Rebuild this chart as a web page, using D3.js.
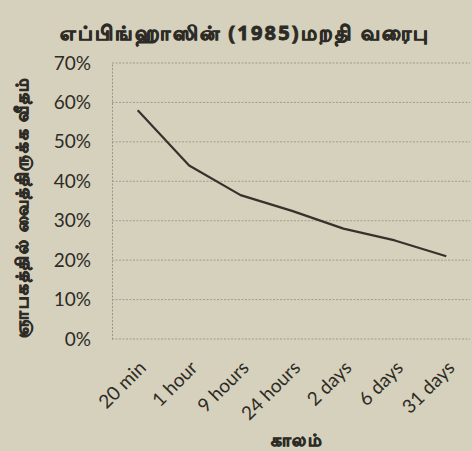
<!DOCTYPE html>
<html>
<head>
<meta charset="utf-8">
<script src="https://cdn.jsdelivr.net/npm/d3@7"></script>
<style>
  html, body { margin: 0; padding: 0; background: #d6d1bc; }
  svg { display: block; }
</style>
</head>
<body>
<svg id="chart" width="472" height="451"></svg>
<script>
const categories = ["20 min", "1 hour", "9 hours", "24 hours", "2 days", "6 days", "31 days"];
const retention = [0.58, 0.44, 0.365, 0.325, 0.28, 0.25, 0.21];
const yTicks = [0, 0.1, 0.2, 0.3, 0.4, 0.5, 0.6, 0.7];
const titleText = "எப்பிங்ஹாஸின் (1985)மறதி வரைபு";
const yTitle = "ஞாபகத்தில் வைத்திருக்க வீதம்";
const xTitle = "காலம்";

const W = 472, H = 451;
const m = { left: 112, right: 0, top: 63, bottom: 112 };
const svg = d3.select("#chart");
const ink = "#2d2b26";

svg.append("rect").attr("width", W).attr("height", H).attr("fill", "#d6d1bc");

const x = d3.scalePoint().domain(categories).range([m.left, W - m.right]).padding(0.5);
const y = d3.scaleLinear().domain([0, 0.7]).range([H - m.bottom, m.top]);

// gridlines
svg.append("g")
  .selectAll("line").data(yTicks).join("line")
  .attr("x1", m.left).attr("x2", W - 2)
  .attr("y1", d => y(d)).attr("y2", d => y(d))
  .attr("stroke", "#8c887a").attr("stroke-width", 1)
  .attr("stroke-dasharray", "2,1.5").attr("opacity", 0.7);

// y axis
const yAxis = svg.append("g").attr("transform", `translate(${m.left},0)`)
  .call(d3.axisLeft(y).tickValues(yTicks).tickFormat(d3.format(".0%")).tickSize(0).tickPadding(21));
yAxis.select(".domain").attr("stroke", "#9a9586").attr("stroke-dasharray", "2,1.5");
yAxis.selectAll("text")
  .attr("font-family", "Lato, 'Open Sans', sans-serif")
  .attr("font-size", 19).attr("fill", ink);

// x axis labels
const xAxis = svg.append("g").attr("transform", `translate(0,${H - m.bottom})`)
  .call(d3.axisBottom(x).tickSize(0).tickPadding(0));
xAxis.select(".domain").remove();
xAxis.selectAll("text")
  .attr("font-family", "Lato, 'Open Sans', sans-serif")
  .attr("font-size", 19).attr("fill", ink)
  .attr("text-anchor", "end")
  .attr("dy", 0)
  .attr("transform", "translate(9,30) rotate(-45)");

// line
const line = d3.line().x((d, i) => x(categories[i])).y(d => y(d));
svg.append("path").datum(retention)
  .attr("d", line).attr("fill", "none")
  .attr("stroke", "#35322c").attr("stroke-width", 2.2)
  .attr("stroke-linejoin", "round");

function tamil(sel, size, spacing) {
  return sel.attr("font-family", "'Noto Sans', 'DejaVu Sans', sans-serif")
    .attr("font-weight", "bold").attr("font-size", size).attr("fill", ink)
    .attr("stroke", ink).attr("stroke-width", 0.9)
    .attr("letter-spacing", spacing);
}

// title
tamil(svg.append("text").attr("x", 245).attr("y", 40).attr("text-anchor", "middle"), 20, 2.2)
  .text(titleText);

// y title
tamil(svg.append("text")
  .attr("transform", `translate(28,${(y(0) + y(0.7)) / 2 + 6}) rotate(-90)`)
  .attr("text-anchor", "middle"), 17, 1.6)
  .text(yTitle);

// x title
tamil(svg.append("text").attr("x", 297).attr("y", 446).attr("text-anchor", "middle"), 17, 1.2)
  .text(xTitle);
</script>
</body>
</html>
